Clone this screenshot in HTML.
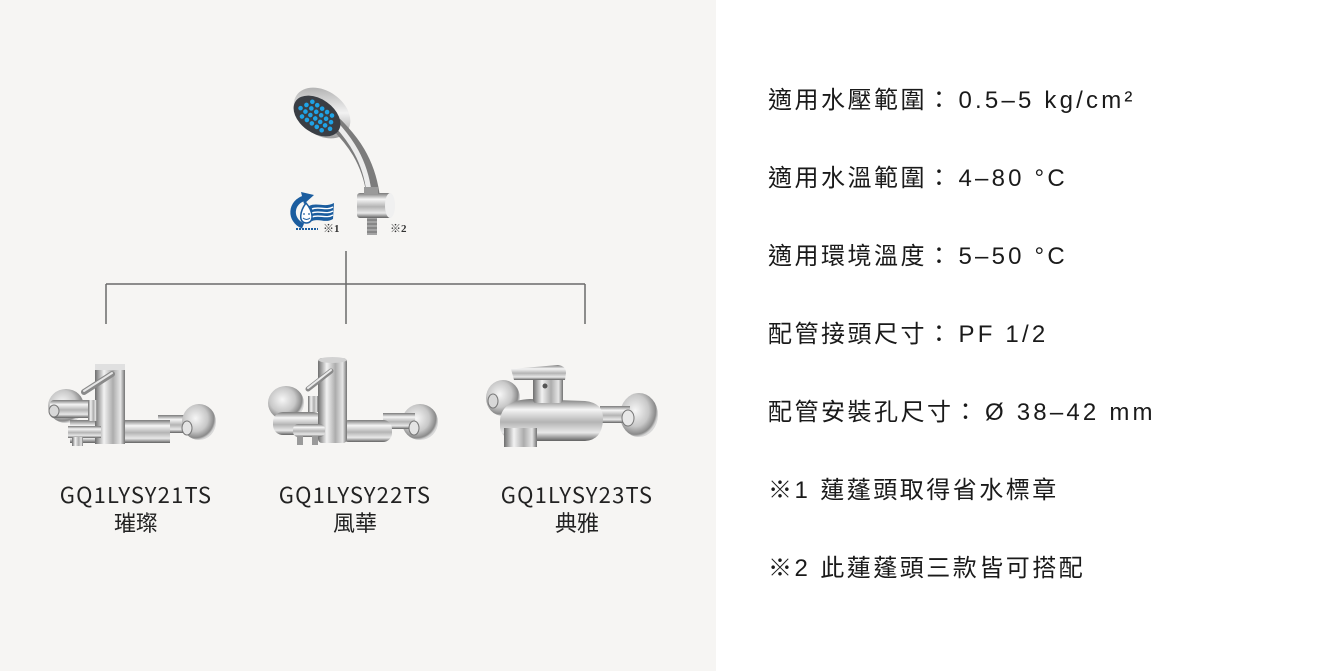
<!DOCTYPE html>
<html>
<head>
<meta charset="utf-8">
<style>
html,body{margin:0;padding:0;}
body{width:1318px;height:671px;overflow:hidden;background:#ffffff;position:relative;font-family:"Liberation Sans","Noto Sans CJK TC",sans-serif;}
#left{position:absolute;left:0;top:0;width:716px;height:671px;background:#f6f5f3;}
svg{position:absolute;left:0;top:0;}
.spec{position:absolute;left:768px;font-size:24px;line-height:30px;letter-spacing:2.5px;color:#1a1a1a;white-space:nowrap;font-family:"Liberation Sans","Noto Sans CJK TC",sans-serif;}
.spec .l{letter-spacing:3.2px;margin-left:5px;}
.lbl{position:absolute;width:220px;text-align:center;font-family:"Noto Sans CJK TC","Liberation Sans",sans-serif;color:#222;font-size:22px;line-height:28px;white-space:nowrap;}
.lbl .m{letter-spacing:1.2px;}
</style>
</head>
<body>
<div id="left"></div>
<svg width="716" height="671" viewBox="0 0 716 671" xmlns="http://www.w3.org/2000/svg">
<defs>
  <linearGradient id="gV" x1="0" y1="0" x2="0" y2="1">
    <stop offset="0" stop-color="#7a7a7a"/>
    <stop offset="0.25" stop-color="#f5f5f5"/>
    <stop offset="0.55" stop-color="#b4b4b4"/>
    <stop offset="0.8" stop-color="#e8e8e8"/>
    <stop offset="1" stop-color="#626262"/>
  </linearGradient>
  <linearGradient id="gH" x1="0" y1="0" x2="1" y2="0">
    <stop offset="0" stop-color="#6e6e6e"/>
    <stop offset="0.3" stop-color="#f2f2f2"/>
    <stop offset="0.6" stop-color="#acacac"/>
    <stop offset="0.85" stop-color="#e6e6e6"/>
    <stop offset="1" stop-color="#727272"/>
  </linearGradient>
  <radialGradient id="gR" cx="0.4" cy="0.4" r="0.6">
    <stop offset="0" stop-color="#f6f6f6"/>
    <stop offset="0.6" stop-color="#c8c8c8"/>
    <stop offset="0.9" stop-color="#8a8a8a"/>
    <stop offset="1" stop-color="#d8d8d8"/>
  </radialGradient>
  <linearGradient id="gHead" x1="0" y1="0" x2="1" y2="1">
    <stop offset="0" stop-color="#9a9a9a"/>
    <stop offset="0.5" stop-color="#f2f2f2"/>
    <stop offset="1" stop-color="#7a7a7a"/>
  </linearGradient>
</defs>

<!-- connector lines -->
<g stroke="#6a6a6a" stroke-width="1.5" fill="none">
  <line x1="346" y1="251" x2="346" y2="324"/>
  <line x1="106" y1="284" x2="585" y2="284"/>
  <line x1="106" y1="284" x2="106" y2="324"/>
  <line x1="585" y1="284" x2="585" y2="324"/>
</g>

<!-- shower head -->
<g>
  <ellipse cx="322" cy="113" rx="31" ry="22" transform="rotate(35 322 113)" fill="url(#gHead)"/>
  <path d="M336,124 C352,140 368,160 373,194" stroke="#7c7c7c" stroke-width="13" fill="none" stroke-linecap="round"/>
  <path d="M335,123 C350,139 365,160 369,192" stroke="#ececec" stroke-width="5" fill="none" stroke-linecap="round"/>
  <ellipse cx="317" cy="116" rx="26" ry="17" transform="rotate(35 317 116)" fill="#3a3e44"/>
  <g transform="translate(317 116) rotate(35)" fill="#1fa3e6">
    <circle cx="-12" cy="-9" r="2.3"/><circle cx="-6" cy="-9" r="2.3"/><circle cx="0" cy="-9" r="2.3"/><circle cx="6" cy="-9" r="2.3"/><circle cx="12" cy="-9" r="2.3"/>
    <circle cx="-15" cy="-3" r="2.3"/><circle cx="-9" cy="-3" r="2.3"/><circle cx="-3" cy="-3" r="2.3"/><circle cx="3" cy="-3" r="2.3"/><circle cx="9" cy="-3" r="2.3"/><circle cx="15" cy="-3" r="2.3"/>
    <circle cx="-18" cy="3" r="2.3"/><circle cx="-12" cy="3" r="2.3"/><circle cx="-6" cy="3" r="2.3"/><circle cx="0" cy="3" r="2.3"/><circle cx="6" cy="3" r="2.3"/><circle cx="12" cy="3" r="2.3"/><circle cx="18" cy="3" r="2.3"/>
    <circle cx="-12" cy="9" r="2.3"/><circle cx="-6" cy="9" r="2.3"/><circle cx="0" cy="9" r="2.3"/><circle cx="6" cy="9" r="2.3"/><circle cx="12" cy="9" r="2.3"/>
  </g>
  <!-- bracket -->
  <rect x="367" y="216" width="10" height="19" fill="#a4a4a4"/>
  <g stroke="#6a6a6a" stroke-width="1">
    <line x1="367" y1="220" x2="377" y2="220"/><line x1="367" y1="224" x2="377" y2="224"/><line x1="367" y1="228" x2="377" y2="228"/><line x1="367" y1="232" x2="377" y2="232"/>
  </g>
  <rect x="357" y="193" width="35" height="25" rx="3" fill="url(#gV)"/>
  <ellipse cx="390" cy="205.5" rx="5" ry="12.5" fill="#f0f0f0"/>
  <rect x="364" y="187" width="14" height="7" fill="#9a9a9a"/>
</g>

<!-- water saving logo -->
<g>
  <path d="M309,206 C317,202 325,208 334,203 L333,219 C325,224 318,217 310,222 Z" fill="#1b5d9f"/>
  <g stroke="#ffffff" stroke-width="1.3" fill="none">
    <path d="M312,209 C319,206 326,211 333,207"/>
    <path d="M312,213 C319,210 326,215 333,211"/>
    <path d="M312,217 C319,214 326,219 333,215"/>
  </g>
  <path d="M303,226 C289,220 290,202 305,198" stroke="#1b5d9f" stroke-width="5.5" fill="none"/>
  <path d="M301,192 L314,195 L304,204 Z" fill="#1b5d9f"/>
  <path d="M306,203 C300,211 298,222 306,223 C315,223 313,211 306,203 Z" fill="#ffffff" stroke="#1b5d9f" stroke-width="1.5"/>
  <circle cx="304" cy="214" r="0.9" fill="#1b5d9f"/><circle cx="309" cy="214" r="0.9" fill="#1b5d9f"/>
  <path d="M303,218 Q306.5,221 310,218" stroke="#1b5d9f" stroke-width="0.9" fill="none"/>
  <line x1="296" y1="229" x2="318" y2="229" stroke="#1b5d9f" stroke-width="2" stroke-dasharray="2 1"/>
</g>
<text x="323" y="232" font-family="Liberation Serif, Noto Serif CJK SC, serif" font-size="11" font-weight="bold" fill="#333">※1</text>
<text x="390" y="232" font-family="Liberation Serif, Noto Serif CJK SC, serif" font-size="11" font-weight="bold" fill="#333">※2</text>

<!-- faucet 1 -->
<g>
  <ellipse cx="66" cy="406" rx="18" ry="17" fill="url(#gR)"/>
  <rect x="50" y="400" width="48" height="18" rx="4" fill="url(#gV)"/>
  <ellipse cx="54" cy="411" rx="5" ry="6" fill="#d8d8d8" stroke="#777" stroke-width="1"/>
  <rect x="158" y="415" width="32" height="18" fill="url(#gV)"/>
  <ellipse cx="199" cy="422" rx="17" ry="18" fill="url(#gR)"/>
  <ellipse cx="187" cy="428" rx="5" ry="7" fill="#e4e4e4" stroke="#777" stroke-width="1"/>
  <rect x="70" y="420" width="100" height="23" fill="url(#gV)"/>
  <rect x="95" y="364" width="30" height="80" fill="url(#gH)"/>
  <rect x="95" y="364" width="30" height="6" fill="#e0e0e0"/>
  <line x1="84" y1="392" x2="112" y2="374" stroke="#8a8a8a" stroke-width="6" stroke-linecap="round"/>
  <line x1="84" y1="391" x2="112" y2="373" stroke="#e6e6e6" stroke-width="2" stroke-linecap="round"/>
  <rect x="88" y="400" width="9" height="21" fill="url(#gH)"/>
  <rect x="68" y="426" width="33" height="12" fill="url(#gV)"/>
  <rect x="72" y="437" width="11" height="9" fill="url(#gH)"/>
</g>

<!-- faucet 2 -->
<g>
  <ellipse cx="286" cy="403" rx="18" ry="17" fill="url(#gR)"/>
  <ellipse cx="420" cy="422" rx="18" ry="18" fill="url(#gR)"/>
  <rect x="383" y="413" width="32" height="16" fill="url(#gV)"/>
  <ellipse cx="414" cy="428" rx="5" ry="7" fill="#e4e4e4" stroke="#777" stroke-width="1"/>
  <rect x="273" y="412" width="50" height="23" rx="10" fill="url(#gV)"/>
  <rect x="340" y="420" width="52" height="22" rx="9" fill="url(#gV)"/>
  <rect x="318" y="358" width="29" height="85" rx="4" fill="url(#gH)"/>
  <ellipse cx="332.5" cy="360" rx="14" ry="3" fill="#d2d2d2"/>
  <line x1="308" y1="389" x2="331" y2="371" stroke="#8a8a8a" stroke-width="5" stroke-linecap="round"/>
  <line x1="308" y1="388" x2="331" y2="370" stroke="#eaeaea" stroke-width="2" stroke-linecap="round"/>
  <rect x="308" y="396" width="10" height="16" fill="url(#gH)"/>
  <rect x="293" y="424" width="32" height="13" rx="5" fill="url(#gV)"/>
  <rect x="297" y="436" width="6" height="9" fill="#9a9a9a"/>
  <rect x="312" y="436" width="6" height="9" fill="#9a9a9a"/>
</g>

<!-- faucet 3 -->
<g>
  <ellipse cx="503" cy="398" rx="17" ry="18" fill="url(#gR)"/>
  <ellipse cx="639" cy="415" rx="19" ry="22" fill="url(#gR)"/>
  <rect x="600" y="406" width="30" height="17" fill="url(#gV)"/>
  <ellipse cx="628" cy="418" rx="6" ry="8" fill="#e8e8e8" stroke="#777" stroke-width="1"/>
  <ellipse cx="493" cy="401" rx="5" ry="7" fill="#d8d8d8" stroke="#777" stroke-width="1"/>
  <path d="M500,420 Q502,400 530,399 L585,401 Q604,403 603,420 Q602,440 585,441 L520,441 Q502,440 500,428 Z" fill="url(#gV)"/>
  <rect x="533" y="373" width="30" height="30" rx="3" fill="url(#gH)"/>
  <path d="M511,369 L558,365 Q566,366 566,373 L565,380 L514,380 Z" fill="url(#gV)"/>
  <circle cx="545" cy="386" r="2.5" fill="#555"/>
  <rect x="504" y="428" width="33" height="19" fill="url(#gH)"/>
</g>
</svg>

<!-- product labels -->
<div class="lbl" style="left:26px;top:480px;"><span class="m">GQ1LYSY21TS</span><br>璀璨</div>
<div class="lbl" style="left:245px;top:480px;"><span class="m">GQ1LYSY22TS</span><br>風華</div>
<div class="lbl" style="left:467px;top:480px;"><span class="m">GQ1LYSY23TS</span><br>典雅</div>

<!-- specs -->
<div class="spec" style="top:86px;">適用水壓範圍：<span class="l">0.5–5 kg/cm²</span></div>
<div class="spec" style="top:164px;">適用水溫範圍：<span class="l">4–80 °C</span></div>
<div class="spec" style="top:242px;">適用環境溫度：<span class="l">5–50 °C</span></div>
<div class="spec" style="top:320px;">配管接頭尺寸：<span class="l">PF 1/2</span></div>
<div class="spec" style="top:398px;">配管安裝孔尺寸：<span class="l">Ø 38–42 mm</span></div>
<div class="spec" style="top:476px;">※<span style="letter-spacing:3.2px">1</span> 蓮蓬頭取得省水標章</div>
<div class="spec" style="top:554px;">※<span style="letter-spacing:3.2px">2</span> 此蓮蓬頭三款皆可搭配</div>
</body>
</html>
